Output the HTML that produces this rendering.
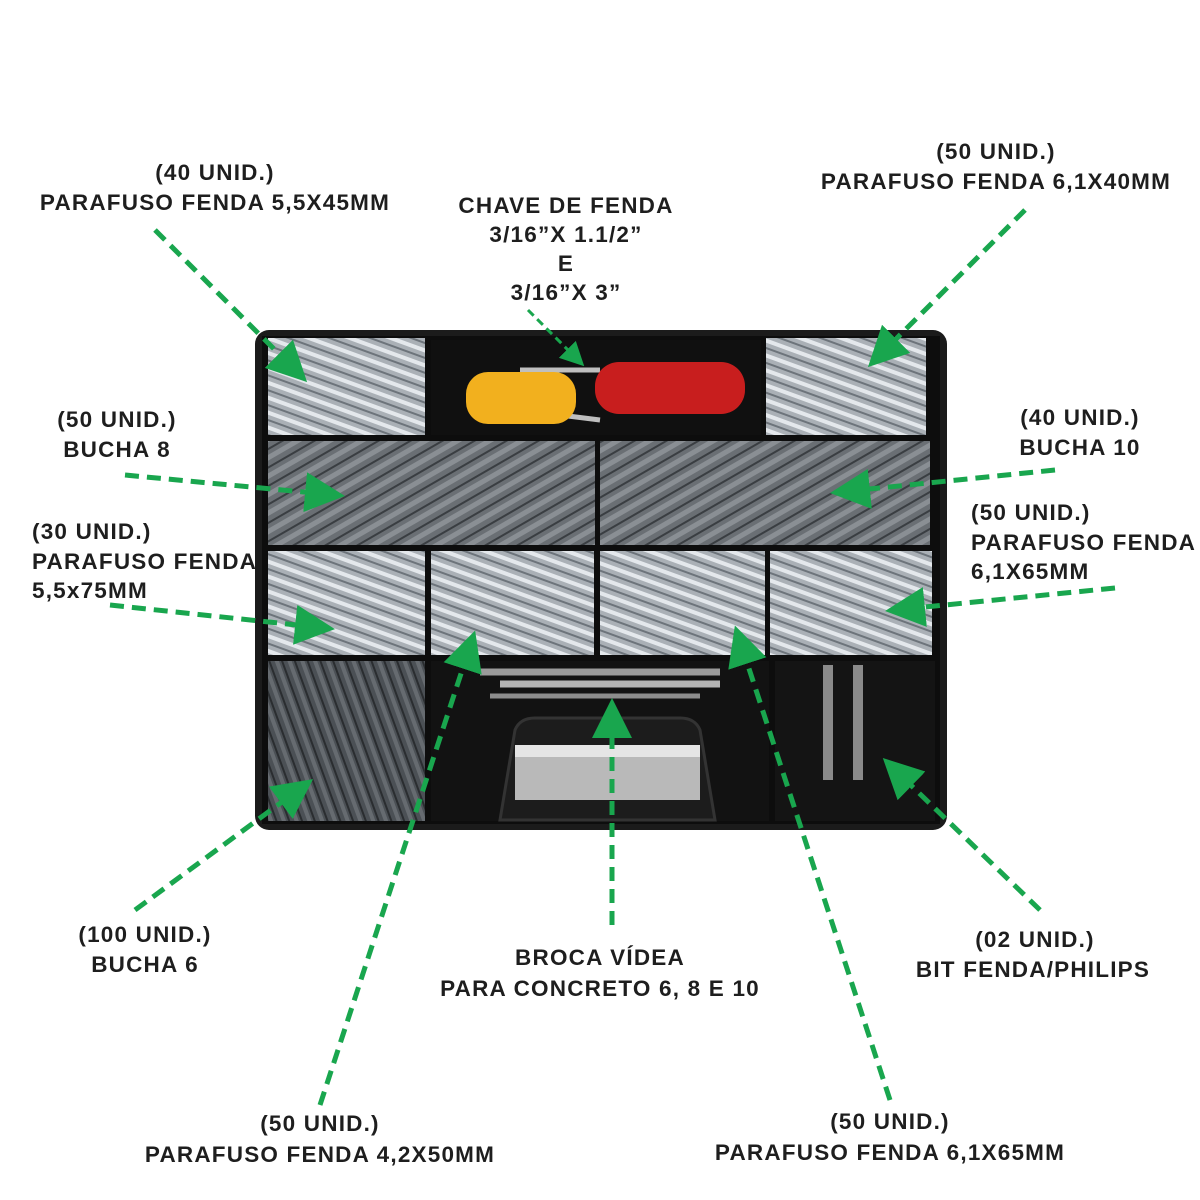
<!DOCTYPE html>
<html><head><meta charset="utf-8"><style>
html,body{margin:0;padding:0;background:#fff;}
svg{display:block}
text{font-family:"Liberation Sans",sans-serif;font-weight:bold;font-size:22.5px;fill:#1e1e1e;text-anchor:middle;letter-spacing:1.2px}
</style></head><body>
<svg width="1200" height="1200" viewBox="0 0 1200 1200" xmlns="http://www.w3.org/2000/svg">
<defs>
<pattern id="scr" width="14" height="14" patternUnits="userSpaceOnUse" patternTransform="rotate(20)">
<rect width="14" height="14" fill="#aab0b6"/><rect width="14" height="4" fill="#e4e8ec"/><rect y="8" width="14" height="2" fill="#6d747b"/>
</pattern>
<pattern id="anc" width="16" height="16" patternUnits="userSpaceOnUse" patternTransform="rotate(-30)">
<rect width="16" height="16" fill="#6a6f74"/><rect width="16" height="5" fill="#8a8f94"/><rect y="10" width="16" height="2" fill="#3a3e42"/>
</pattern>
<pattern id="anc2" width="12" height="12" patternUnits="userSpaceOnUse" patternTransform="rotate(70)">
<rect width="12" height="12" fill="#4b5055"/><rect width="12" height="4" fill="#666b70"/><rect y="8" width="12" height="2" fill="#2a2d30"/>
</pattern>
<marker id="ah" markerWidth="8" markerHeight="8" refX="6" refY="4" orient="auto" markerUnits="strokeWidth">
<path d="M0,0 L8,4 L0,8 z" fill="#19a64e"/></marker>
</defs>
<rect width="1200" height="1200" fill="#fff"/>

<rect x="255" y="330" width="692" height="500" rx="14" fill="#1b1b1b"/>
<rect x="262" y="336" width="678" height="488" fill="#0d0d0d"/>
<rect x="268" y="338" width="157" height="97" fill="url(#scr)"/>
<rect x="431" y="340" width="330" height="95" fill="#101010"/>
<rect x="766" y="338" width="160" height="97" fill="url(#scr)"/>
<rect x="268" y="441" width="327" height="104" fill="url(#anc)"/>
<rect x="600" y="441" width="330" height="104" fill="url(#anc)"/>
<rect x="268" y="551" width="157" height="104" fill="url(#scr)"/>
<rect x="431" y="551" width="163" height="104" fill="url(#scr)"/>
<rect x="600" y="551" width="165" height="104" fill="url(#scr)"/>
<rect x="770" y="551" width="162" height="104" fill="url(#scr)"/>
<rect x="268" y="661" width="157" height="160" fill="url(#anc2)"/>
<rect x="431" y="661" width="338" height="160" fill="#121212"/>
<rect x="775" y="661" width="160" height="160" fill="#141414"/>
<path d="M500,820 L515,730 Q520,718 535,718 L680,718 Q695,718 700,730 L715,820 Z" fill="#1c1c1c" stroke="#333" stroke-width="3"/>
<rect x="515" y="745" width="185" height="55" fill="#b9b9b9"/>
<rect x="515" y="745" width="185" height="12" fill="#e5e5e5"/>
<line x1="480" y1="672" x2="720" y2="672" stroke="#9a9a9a" stroke-width="7"/>
<line x1="500" y1="684" x2="720" y2="684" stroke="#b4b4b4" stroke-width="7"/>
<line x1="490" y1="696" x2="700" y2="696" stroke="#8c8c8c" stroke-width="5"/>
<line x1="520" y1="370" x2="600" y2="370" stroke="#bfbfbf" stroke-width="5"/>
<rect x="595" y="362" width="150" height="52" rx="24" fill="#c81e1e"/>
<line x1="520" y1="410" x2="600" y2="420" stroke="#bfbfbf" stroke-width="5"/>
<rect x="466" y="372" width="110" height="52" rx="22" fill="#f2b01e"/>
<rect x="823" y="665" width="10" height="115" fill="#8a8a8a"/>
<rect x="853" y="665" width="10" height="115" fill="#8a8a8a"/>

<g stroke="#19a64e" stroke-width="5" stroke-dasharray="14,8" fill="none" marker-end="url(#ah)">
<line x1="155" y1="230" x2="300" y2="375"/>
<line x1="1025" y1="210" x2="875" y2="360"/>
<line x1="125" y1="475" x2="335" y2="495"/>
<line x1="1055" y1="470" x2="840" y2="492"/>
<line x1="110" y1="605" x2="325" y2="628"/>
<line x1="1115" y1="588" x2="895" y2="610"/>
<line x1="135" y1="910" x2="305" y2="785"/>
<line x1="320" y1="1105" x2="472" y2="640"/>
<line x1="612" y1="925" x2="612" y2="708"/>
<line x1="890" y1="1100" x2="738" y2="635"/>
<line x1="1040" y1="910" x2="890" y2="765"/>
</g>
<line x1="528" y1="310" x2="580" y2="362" stroke="#19a64e" stroke-width="3" stroke-dasharray="8,5" marker-end="url(#ah)"/>

<text x="215" y="180">(40 UNID.)</text>
<text x="215" y="210">PARAFUSO FENDA 5,5X45MM</text>
<text x="566" y="213">CHAVE DE FENDA</text>
<text x="566" y="242">3/16”X 1.1/2”</text>
<text x="566" y="271">E</text>
<text x="566" y="300">3/16”X 3”</text>
<text x="996" y="159">(50 UNID.)</text>
<text x="996" y="189">PARAFUSO FENDA 6,1X40MM</text>
<text x="117" y="427">(50 UNID.)</text>
<text x="117" y="457">BUCHA 8</text>
<text x="1080" y="425">(40 UNID.)</text>
<text x="1080" y="455">BUCHA 10</text>
<text x="32" y="539" style="text-anchor:start">(30 UNID.)</text>
<text x="32" y="569" style="text-anchor:start">PARAFUSO FENDA</text>
<text x="32" y="598" style="text-anchor:start">5,5x75MM</text>
<text x="971" y="520" style="text-anchor:start">(50 UNID.)</text>
<text x="971" y="550" style="text-anchor:start">PARAFUSO FENDA</text>
<text x="971" y="579" style="text-anchor:start">6,1X65MM</text>
<text x="145" y="942">(100 UNID.)</text>
<text x="145" y="972">BUCHA 6</text>
<text x="600" y="965">BROCA VÍDEA</text>
<text x="600" y="996">PARA CONCRETO 6, 8 E 10</text>
<text x="1035" y="947">(02 UNID.)</text>
<text x="1033" y="977">BIT FENDA/PHILIPS</text>
<text x="320" y="1131">(50 UNID.)</text>
<text x="320" y="1162">PARAFUSO FENDA 4,2X50MM</text>
<text x="890" y="1129">(50 UNID.)</text>
<text x="890" y="1160">PARAFUSO FENDA 6,1X65MM</text>
</svg>
</body></html>
